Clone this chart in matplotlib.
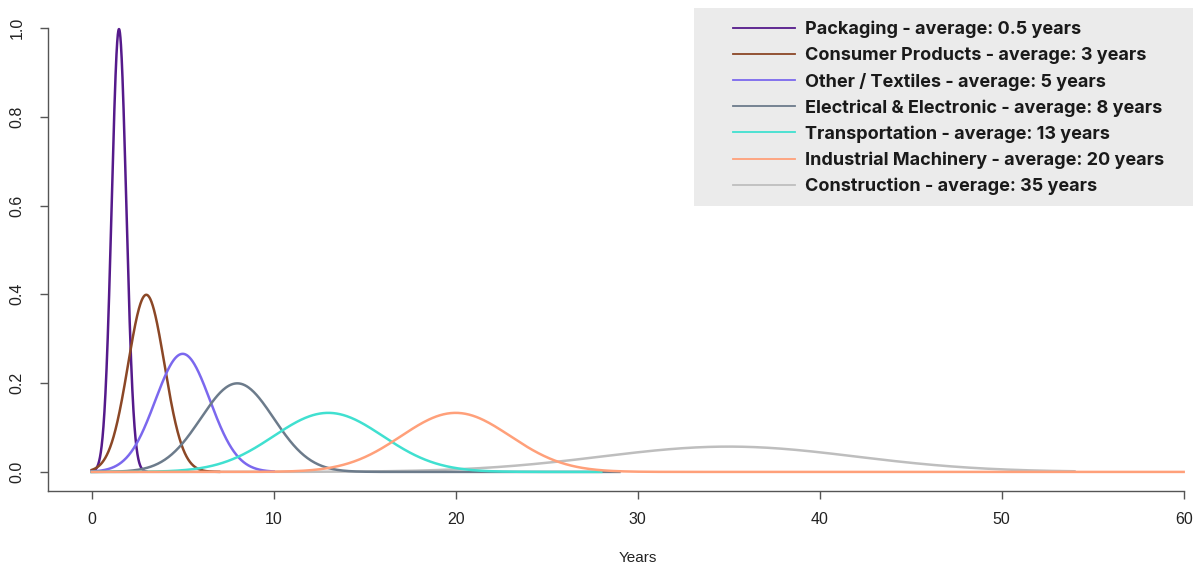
import numpy as np
import matplotlib.pyplot as plt
from matplotlib.patches import Rectangle

# ----------------------------
# Data: normal lifetime distributions per sector (mean, sd read from peaks)
# ----------------------------
sectors = ["Packaging", "Consumer Products", "Other / Textiles",
           "Electrical & Electronic", "Transportation",
           "Industrial Machinery", "Construction"]
avg_labels = ["0.5", "3", "5", "8", "13", "20", "35"]
means = [1.5, 3, 5, 8, 13, 20, 35]
sds = [0.4, 1.0, 1.5, 2.0, 3.0, 3.0, 7.0]
x_end = [3, 7, 10, 29, 28, 60, 54]
colors = ["#551A8B", "#8B4726", "#7B68EE", "#6C7B8B",
          "#40E0D0", "#FFA07A", "#BEBEBE"]
draw_order = [6, 0, 1, 2, 3, 4, 5]

x_ticks = [0, 10, 20, 30, 40, 50, 60]
y_ticks = [0.0, 0.2, 0.4, 0.6, 0.8, 1.0]

W, H = 1193, 566
fig = plt.figure(figsize=(W / 100, H / 100), dpi=100)

# plot region laid out like R base graphics (right side cropped off)
x_lo, x_hi = -2.4, 62.4
y_lo, y_hi = -0.043, 1.04
px_x = (1184 - 92) / 60
px_y = (472 - 28) / 1.0
left = 48 / W
width = (x_hi - x_lo) * px_x / W
bottom = (H - 491) / H
height = (y_hi - y_lo) * px_y / H
ax = fig.add_axes([left, bottom, width, height])

handles = {}
for i in draw_order:
    xs = np.linspace(0, x_end[i], 600)
    ys = np.exp(-0.5 * ((xs - means[i]) / sds[i]) ** 2) / (sds[i] * np.sqrt(2 * np.pi))
    (ln,) = ax.plot(xs, ys, color=colors[i], lw=1.8)
    handles[i] = ln

ax.set_xlim(x_lo, x_hi)
ax.set_ylim(y_lo, y_hi)
ax.set_xticks(x_ticks)
ax.set_xticklabels([str(t) for t in x_ticks])
ax.set_yticks(y_ticks)
ax.set_yticklabels([f"{t:.1f}" for t in y_ticks], rotation=90, va="center")

for s in ["top", "right"]:
    ax.spines[s].set_visible(False)
ax.spines["left"].set_bounds(y_lo, 1.0)
ax.spines["bottom"].set_bounds(x_lo, 60)
for s in ["left", "bottom"]:
    ax.spines[s].set_color("#555555")
    ax.spines[s].set_linewidth(1.0)

ax.tick_params(axis="both", colors="#555555", length=6, width=1.0,
               labelcolor="#222222", labelsize=11.5)
ax.tick_params(axis="x", pad=9)
ax.tick_params(axis="y", pad=11)
for lab in ax.get_xticklabels() + ax.get_yticklabels():
    lab.set_fontfamily("Liberation Sans")

fig.text(638 / W, 1 - 558 / H, "Years", ha="center", va="center",
         fontsize=11, family="Liberation Sans", color="#222222")

# legend background box
fig.patches.append(Rectangle((694 / W, 1 - 206 / H), (W - 694) / W, 198 / H,
                             transform=fig.transFigure, facecolor="#EBEBEB",
                             edgecolor="none", zorder=0))

labels = [f"{s} - average: {a} years" for s, a in zip(sectors, avg_labels)]
leg = fig.legend([handles[i] for i in range(len(sectors))], labels,
                 loc="upper left", bbox_to_anchor=(733 / W, 1 - 21 / H),
                 frameon=False, borderpad=0, borderaxespad=0,
                 handlelength=3.45, handletextpad=0.55, labelspacing=0.475,
                 prop={"family": "Inter", "weight": "bold", "size": 13})
for ln in leg.get_lines():
    ln.set_linewidth(1.3)
for t in leg.get_texts():
    t.set_color("#1a1a1a")

plt.savefig("out.png", dpi=100)
plt.close()
